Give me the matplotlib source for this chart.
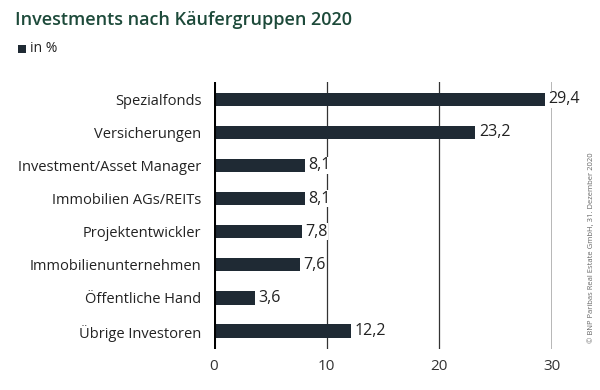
import matplotlib
matplotlib.use("Agg")
import matplotlib.pyplot as plt
from matplotlib.patches import Rectangle

categories = ["Spezialfonds", "Versicherungen", "Investment/Asset Manager",
              "Immobilien AGs/REITs", "Projektentwickler", "Immobilienunternehmen",
              "Öffentliche Hand", "Übrige Investoren"]
values = [29.4, 23.2, 8.1, 8.1, 7.8, 7.6, 3.6, 12.2]
value_labels = ["29,4", "23,2", "8,1", "8,1", "7,8", "7,6", "3,6", "12,2"]
xticks = [0, 10, 20, 30]

plt.rcParams['font.family'] = ['Open Sans', 'DejaVu Sans']
W, H = 600, 390
fig = plt.figure(figsize=(6, 3.9), dpi=100)
ax = fig.add_axes([214 / W, 1 - 349 / H, (552 - 214) / W, (349 - 82) / H])

bar_color = "#1f2a34"
y = list(range(len(categories)))
ax.barh(y, values, height=0.4, color=bar_color, zorder=3)
ax.set_xlim(0, 30)
ax.set_ylim(7.54, -0.52)

for xv in xticks[1:3]:
    ax.axvline(xv, color="#333333", lw=0.9, zorder=1)
ax.axvline(30, color="#aaaaaa", lw=1.2, zorder=1)
ax.axvline(0, color="black", lw=2.2, zorder=4)

for yi, v, lab in zip(y, values, value_labels):
    ax.text(v + 0.3, yi, lab, va="center", ha="left", fontsize=11.5,
            color="#222222", clip_on=False, zorder=5,
            bbox=dict(facecolor="white", edgecolor="none", pad=0.5))

ax.set_yticks(y)
ax.set_yticklabels(categories, fontsize=10.5, color="#222222")
ax.set_xticks(xticks)
ax.set_xticklabels([str(t) for t in xticks], fontsize=11, color="#333333")
ax.tick_params(axis="both", length=0)
ax.tick_params(axis="y", pad=9)
ax.tick_params(axis="x", pad=7)
for s in ax.spines.values():
    s.set_visible(False)

fig.text(15 / W, 1 - 20 / H, "Investments nach Käufergruppen 2020", fontsize=13,
         fontweight="semibold", color="#1d4a3a", va="center", ha="left")
fig.patches.append(Rectangle((18 / W, 1 - 53 / H), 8 / W, 8 / H, transform=fig.transFigure,
                             facecolor=bar_color, edgecolor="none"))
fig.text(30 / W, 1 - 48 / H, "in %", fontsize=10, color="#222222", va="center", ha="left")

fig.text(592 / W, 1 - 248 / H, "© BNP Paribas Real Estate GmbH, 31. Dezember 2020",
         fontsize=5.5, color="#666666", rotation=90, va="center", ha="center")

fig.savefig("out.png", dpi=100, facecolor="white")
